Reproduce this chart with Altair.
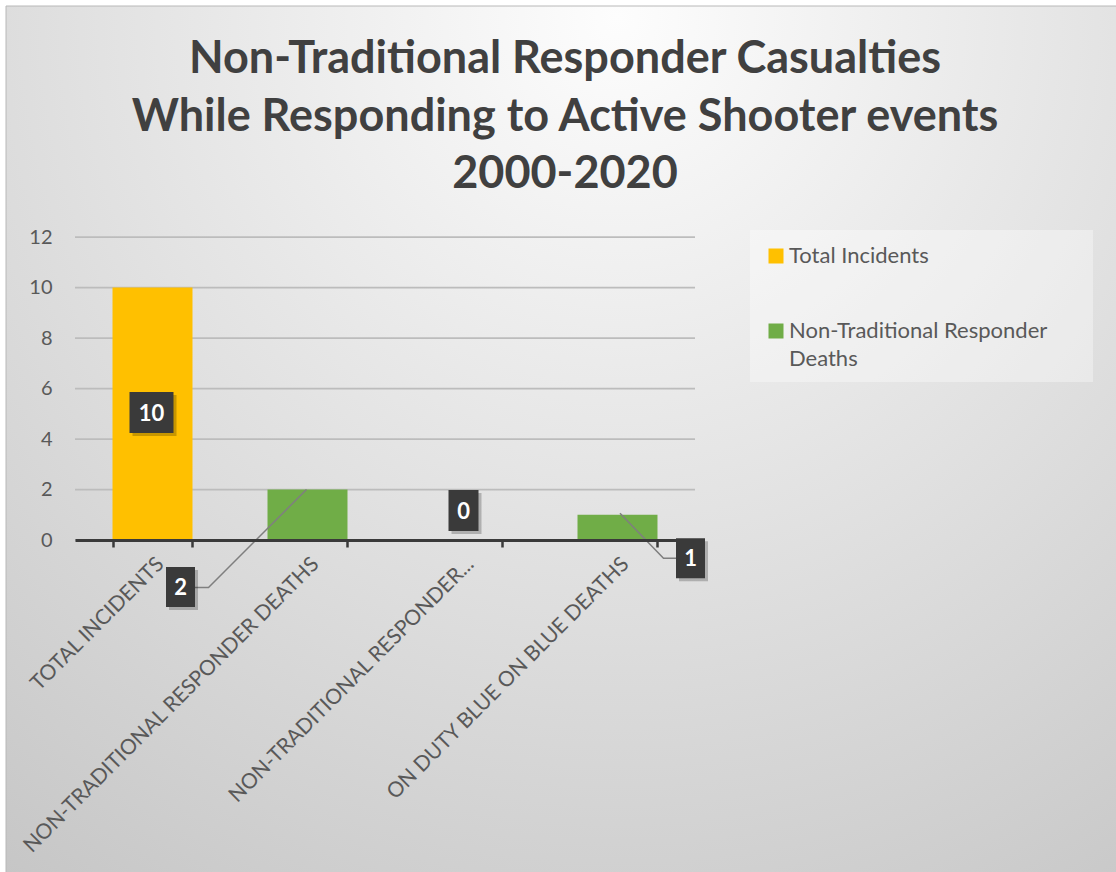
import altair as alt
import pandas as pd

# ---- data -----------------------------------------------------------------
categories = [
    "TOTAL INCIDENTS",
    "NON-TRADITIONAL RESPONDER DEATHS",
    "NON-TRADITIONAL RESPONDER...",
    "ON DUTY BLUE ON BLUE DEATHS",
]
values = [10, 2, 0, 1]
series = [
    "Total Incidents",
    "Non-Traditional Responder Deaths",
    "Non-Traditional Responder Deaths",
    "Non-Traditional Responder Deaths",
]
series_names = ["Total Incidents", "Non-Traditional Responder Deaths"]
series_colors = ["#FFC000", "#70AD47"]
y_ticks = [0, 2, 4, 6, 8, 10, 12]
title_lines = [
    "Non-Traditional Responder Casualties",
    "While Responding to Active Shooter events",
    "2000-2020",
]

df = pd.DataFrame({"category": categories, "value": values, "series": series})
grid_df = pd.DataFrame({"value": y_ticks})

# ---- layout ---------------------------------------------------------------
W, H = 620, 303            # plot area
PAD_L, PAD_T = 75, 237     # plot area origin on the page
PAGE_W, PAGE_H = 1116, 872
FONT = "Lato"
GREY_TEXT = "#595959"

# data-label callouts: pixel shift of the label box from the bar top,
# box outline and optional leader line (paths in pixels, size=4 -> scale 1)
callouts = {
    "TOTAL INCIDENTS": dict(dx=-1, dy=125, box="M-22,-20.5H22V20.5H-22Z", leader=None),
    "NON-TRADITIONAL RESPONDER DEATHS": dict(
        dx=-127, dy=97.5, box="M-14.5,-20H14.5V20H-14.5Z",
        leader="M-1,0L-99,98L-113,98"),
    "NON-TRADITIONAL RESPONDER...": dict(dx=1, dy=-29.5, box="M-15,-20.5H15V20.5H-15Z", leader=None),
    "ON DUTY BLUE ON BLUE DEATHS": dict(
        dx=73, dy=43.5, box="M-14.5,-20H14.5V20H-14.5Z",
        leader="M2.5,-1.5L46,43.5L59,43.5"),
}

X = alt.X(
    "category:N",
    sort=categories,
    title=None,
    scale=alt.Scale(paddingInner=0.484, paddingOuter=0.242),
    axis=alt.Axis(
        labelAngle=315,
        labelFont=FONT,
        labelFontSize=21,
        labelColor=GREY_TEXT,
        labelLimit=0,
        labelPadding=6,
        domainColor="#3a3a3a",
        domainWidth=3,
        tickColor="#3a3a3a",
        tickWidth=2.5,
        tickSize=7,
        tickBand="extent",
        grid=False,
        zindex=2,
    ),
)
Y = alt.Y(
    "value:Q",
    title=None,
    scale=alt.Scale(domain=[0, 12], nice=False),
    axis=alt.Axis(
        values=y_ticks,
        domain=False,
        ticks=False,
        labelFont=FONT,
        labelFontSize=20,
        labelColor=GREY_TEXT,
        labelPadding=23,
        grid=False,
        zindex=1,
    ),
)

one = alt.Data(values=[{}])

# background panel with a soft radial shading
panel = alt.Chart(one).mark_rect(
    fill=alt.RadialGradient(
        gradient="radial",
        x1=0.55, y1=0.12, r1=0,
        x2=0.55, y2=0.12, r2=1.0,
        stops=[
            alt.GradientStop(offset=0, color="#fdfdfd"),
            alt.GradientStop(offset=1, color="#c3c3c3"),
        ],
    ),
    stroke="#b8b8b8",
    strokeWidth=1,
).encode(
    x=alt.value(6 - PAD_L),
    x2=alt.value(PAGE_W - PAD_L + 2),
    y=alt.value(6 - PAD_T),
    y2=alt.value(PAGE_H - PAD_T + 2),
)

title = alt.Chart(one).mark_text(
    font=FONT,
    fontSize=45,
    fontWeight="bold",
    color="#404040",
    align="center",
    baseline="alphabetic",
    lineHeight=57.5,
).encode(
    x=alt.value(565 - PAD_L),
    y=alt.value(73 - PAD_T),
    text=alt.value(title_lines),
)

legend_box = alt.Chart(one).mark_rect(color="#ffffff", opacity=0.35).encode(
    x=alt.value(750 - PAD_L),
    x2=alt.value(1093 - PAD_L),
    y=alt.value(230 - PAD_T),
    y2=alt.value(382 - PAD_T),
)

# horizontal gridlines, drawn over the panel and under the bars
grid = alt.Chart(grid_df).mark_rule(color="#bcbcbc", strokeWidth=1.75).encode(y=Y)

base = alt.Chart(df)

bars = base.mark_bar().encode(
    x=X,
    y=Y,
    color=alt.Color(
        "series:N",
        scale=alt.Scale(domain=series_names, range=series_colors),
        legend=alt.Legend(
            title=None,
            orient="none",
            legendX=690,
            legendY=8,
            symbolType="square",
            symbolSize=225,
            symbolStrokeWidth=0,
            labelFont=FONT,
            labelFontSize=22,
            labelColor=GREY_TEXT,
            labelOffset=2,
            labelLimit=0,
            rowPadding=53,
            labelExpr=(
                "datum.label == 'Non-Traditional Responder Deaths'"
                " ? ['Non-Traditional Responder', 'Deaths'] : datum.label"
            ),
        ),
    ),
)

label_layers = []
for cat, c in callouts.items():
    sub = base.transform_filter(alt.datum.category == cat)
    if c["leader"]:
        label_layers.append(
            sub.mark_point(
                shape=c["leader"], size=4, filled=False,
                color="#7f7f7f", strokeWidth=1.5, opacity=1,
            ).encode(x=X, y=Y)
        )
    label_layers.append(
        sub.mark_point(
            shape=c["box"], size=4, filled=True, color="#000000",
            opacity=0.22, strokeWidth=0,
            xOffset=c["dx"] + 3, yOffset=c["dy"] + 3,
        ).encode(x=X, y=Y)
    )
    label_layers.append(
        sub.mark_point(
            shape=c["box"], size=4, filled=True, color="#3a3a3a",
            opacity=1, strokeWidth=0,
            xOffset=c["dx"], yOffset=c["dy"],
        ).encode(x=X, y=Y)
    )
    label_layers.append(
        sub.mark_text(
            font=FONT, fontSize=22, fontWeight="bold", color="#ffffff",
            align="center", baseline="middle",
            xOffset=c["dx"], yOffset=c["dy"] + 1,
        ).encode(x=X, y=Y, text="value:Q")
    )

chart = alt.layer(panel, title, legend_box, grid, bars, *label_layers).properties(
    width=W,
    height=H,
    autosize=alt.AutoSizeParams(type="none"),
    padding={"left": PAD_L, "top": PAD_T,
             "right": PAGE_W - PAD_L - W, "bottom": PAGE_H - PAD_T - H},
    background="#ffffff",
).configure(
    style={"guide-label": {"lineHeight": 28}}
).configure_view(
    stroke=None
)

chart.save("out.html", embed_options={"renderer": "svg", "actions": False})
